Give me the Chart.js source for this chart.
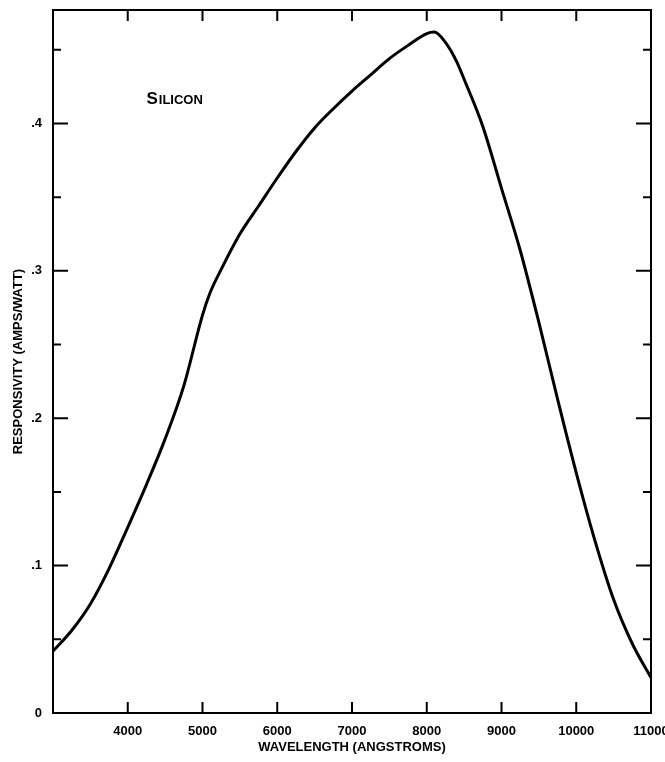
<!DOCTYPE html>
<html>
<head>
<meta charset="utf-8">
<script src="https://cdn.jsdelivr.net/npm/chart.js@4/dist/chart.umd.min.js"></script>
<style>
  html, body { margin: 0; padding: 0; background: #fff; }
  #wrap { width: 665px; height: 762px; position: relative; }
</style>
</head>
<body>
<div id="wrap"><canvas id="c" width="665" height="762"></canvas></div>
<script>
// Data
const wavelengths = [3000, 3250, 3500, 3750, 4000, 4250, 4500, 4750, 5000, 5100, 5250, 5500, 5750, 6000, 6250, 6500, 6750, 7000, 7250, 7500, 7750, 8000, 8100, 8250, 8400, 8500, 8750, 9000, 9250, 9500, 9750, 10000, 10250, 10500, 10750, 11000];
const responsivity = [0.042, 0.056, 0.074, 0.098, 0.126, 0.155, 0.186, 0.222, 0.270, 0.285, 0.301, 0.325, 0.344, 0.363, 0.381, 0.397, 0.410, 0.422, 0.433, 0.444, 0.453, 0.461, 0.462, 0.455, 0.442, 0.430, 0.398, 0.356, 0.314, 0.265, 0.213, 0.163, 0.117, 0.077, 0.047, 0.024];

const xTickValues = [4000, 5000, 6000, 7000, 8000, 9000, 10000, 11000];
const xTickLabels = ['4000', '5000', '6000', '7000', '8000', '9000', '10000', '11000'];
const xMarkValues = [4000, 5000, 6000, 7000, 8000, 9000, 10000];
const yTickValues = [0, 0.1, 0.2, 0.3, 0.4];
const yTickLabels = ['0', '.1', '.2', '.3', '.4'];
const yMinorValues = [0.05, 0.15, 0.25, 0.35, 0.45];
const xTitle = 'WAVELENGTH (ANGSTROMS)';
const yTitle = 'RESPONSIVITY (AMPS/WATT)';
const annotation = 'Silicon';

const points = wavelengths.map((w, i) => ({ x: w, y: responsivity[i] }));

const framePlugin = {
  id: 'frame',
  afterDraw(chart) {
    const { ctx, chartArea: a, scales: { x, y } } = chart;
    ctx.save();
    ctx.strokeStyle = '#000';
    ctx.lineWidth = 2;
    ctx.strokeRect(a.left, a.top, a.right - a.left, a.bottom - a.top);
    ctx.beginPath();
    yTickValues.forEach(v => {
      if (v === 0) return;
      const py = y.getPixelForValue(v);
      ctx.moveTo(a.left, py); ctx.lineTo(a.left + 15, py);
      ctx.moveTo(a.right, py); ctx.lineTo(a.right - 15, py);
    });
    yMinorValues.forEach(v => {
      const py = y.getPixelForValue(v);
      ctx.moveTo(a.left, py); ctx.lineTo(a.left + 8, py);
      ctx.moveTo(a.right, py); ctx.lineTo(a.right - 8, py);
    });
    xMarkValues.forEach(v => {
      const px = x.getPixelForValue(v);
      ctx.moveTo(px, a.bottom); ctx.lineTo(px, a.bottom - 11);
      ctx.moveTo(px, a.top); ctx.lineTo(px, a.top + 11);
    });
    ctx.stroke();

    const tx = x.getPixelForValue(4250);
    const ty = y.getPixelForValue(0.413);
    ctx.fillStyle = '#000';
    ctx.textBaseline = 'alphabetic';
    ctx.textAlign = 'left';
    ctx.font = '600 17px "Liberation Sans", Arial, sans-serif';
    const first = annotation.charAt(0).toUpperCase();
    ctx.fillText(first, tx, ty);
    const w1 = ctx.measureText(first).width;
    ctx.font = '600 13px "Liberation Sans", Arial, sans-serif';
    ctx.fillText(annotation.slice(1).toUpperCase(), tx + w1 + 1, ty);
    ctx.restore();
  }
};

new Chart(document.getElementById('c'), {
  type: 'line',
  data: {
    datasets: [{
      data: points,
      borderColor: '#000',
      borderWidth: 3,
      pointRadius: 0,
      fill: false,
      cubicInterpolationMode: 'monotone'
    }]
  },
  options: {
    responsive: false,
    animation: false,
    events: [],
    layout: { padding: { top: 10, right: 14, bottom: 0, left: 0 } },
    plugins: { legend: { display: false }, tooltip: { enabled: false } },
    scales: {
      x: {
        type: 'linear',
        min: 3000,
        max: 11000,
        afterBuildTicks(scale) { scale.ticks = xTickValues.map(v => ({ value: v })); },
        afterFit(scale) { scale.height = 49; scale.paddingLeft = 0; scale.paddingRight = 0; },
        grid: { display: false, drawTicks: false },
        border: { display: false },
        ticks: {
          autoSkip: false,
          maxRotation: 0,
          padding: 11,
          color: '#000',
          font: { family: '"Liberation Sans", Arial, sans-serif', size: 13, weight: 'bold' },
          callback(v) { const i = xTickValues.indexOf(v); return i >= 0 ? xTickLabels[i] : ''; }
        },
        title: {
          display: true,
          text: xTitle,
          color: '#000',
          padding: { top: 0, bottom: 7 },
          font: { family: '"Liberation Sans", Arial, sans-serif', size: 13, weight: 'bold' }
        }
      },
      y: {
        type: 'linear',
        min: 0,
        max: 0.477,
        afterBuildTicks(scale) { scale.ticks = yTickValues.map(v => ({ value: v })); },
        afterFit(scale) { scale.width = 53; scale.paddingTop = 0; scale.paddingBottom = 0; },
        grid: { display: false, drawTicks: false },
        border: { display: false },
        ticks: {
          padding: 11,
          color: '#000',
          font: { family: '"Liberation Sans", Arial, sans-serif', size: 13, weight: 'bold' },
          callback(v) { const i = yTickValues.indexOf(v); return i >= 0 ? yTickLabels[i] : ''; }
        },
        title: {
          display: true,
          text: yTitle,
          color: '#000',
          padding: { top: 11, bottom: 0 },
          font: { family: '"Liberation Sans", Arial, sans-serif', size: 13, weight: 'bold' }
        }
      }
    }
  },
  plugins: [framePlugin]
});
</script>
</body>
</html>
